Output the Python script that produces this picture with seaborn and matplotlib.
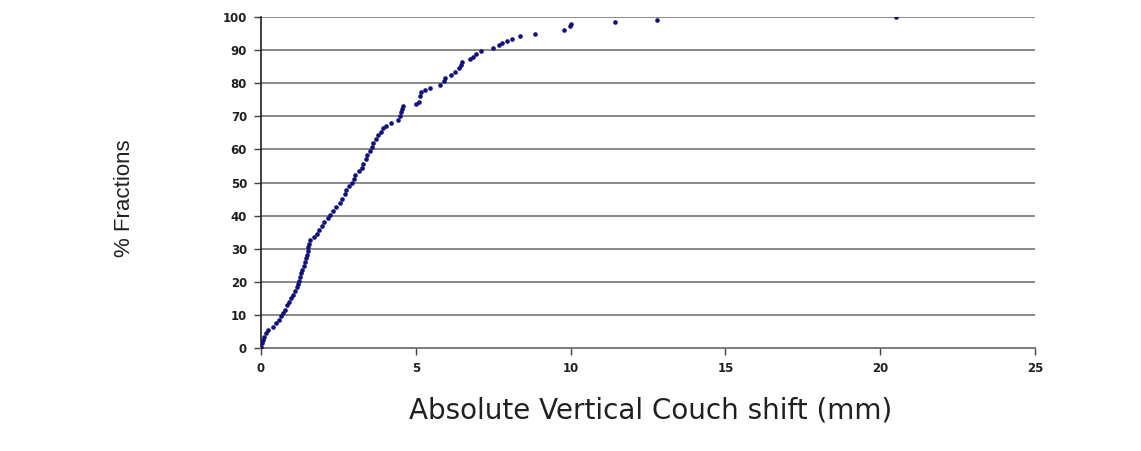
import numpy as np
import pandas as pd
import matplotlib
matplotlib.use("Agg")
import matplotlib.pyplot as plt
import seaborn as sns

# values (shift in mm, cumulative % of fractions)
shift_mm = [
    0.0, 0.03, 0.07, 0.1, 0.17, 0.24, 0.4, 0.5, 0.58, 0.63,
    0.7, 0.76, 0.83, 0.9, 0.97, 1.03, 1.1, 1.15, 1.18, 1.22,
    1.26, 1.3, 1.33, 1.38, 1.42, 1.45, 1.48, 1.51, 1.53, 1.56,
    1.58, 1.7, 1.8, 1.87, 1.96, 2.05, 2.15, 2.23, 2.32, 2.42,
    2.55, 2.62, 2.7, 2.76, 2.85, 2.93, 3.0, 3.05, 3.15, 3.25,
    3.3, 3.38, 3.43, 3.52, 3.57, 3.63, 3.7, 3.78, 3.86, 3.95,
    4.05, 4.2, 4.43, 4.48, 4.52, 4.56, 4.6, 5.0, 5.1, 5.15,
    5.18, 5.3, 5.45, 5.77, 5.9, 5.95, 6.15, 6.28, 6.38, 6.45,
    6.5, 6.75, 6.85, 6.96, 7.1, 7.5, 7.7, 7.8, 7.95, 8.1,
    8.35, 8.84, 9.8, 9.97, 10.0, 11.42, 12.8, 20.5,
]
pct_fractions = [
    0.4, 1.5, 2.5, 3.4, 4.4, 5.4, 6.4, 7.5, 8.5, 9.6,
    10.6, 11.6, 13.0, 14.0, 15.1, 16.0, 17.2, 18.3, 19.2, 20.3,
    21.4, 22.6, 23.7, 24.8, 26.0, 27.1, 28.2, 29.3, 30.4, 31.5,
    32.6, 33.4, 34.4, 35.5, 37.0, 38.0, 39.2, 40.2, 41.5, 42.5,
    43.8, 45.0, 46.6, 47.8, 48.8, 50.0, 51.2, 52.4, 53.5, 54.5,
    55.7, 57.0, 58.2, 59.6, 60.7, 61.8, 63.0, 64.3, 65.4, 66.4,
    67.2, 68.0, 68.9, 70.2, 71.2, 72.1, 73.0, 73.8, 74.4, 76.0,
    77.2, 77.9, 78.5, 79.4, 80.6, 81.5, 82.5, 83.5, 84.5, 85.6,
    86.5, 87.2, 88.0, 88.9, 89.6, 90.5, 91.6, 92.1, 92.8, 93.5,
    94.3, 95.0, 96.1, 97.3, 97.8, 98.4, 99.1, 99.9,
]
x_ticks = [0, 5, 10, 15, 20, 25]
y_ticks = list(range(0, 101, 10))

df = pd.DataFrame({"shift": shift_mm, "pct": pct_fractions})

sns.set_style("white")
fig = plt.figure(figsize=(11.41, 4.51), dpi=100)
ax = fig.add_axes([261 / 1141, 1 - 348 / 451, 774 / 1141, 331 / 451])

for y in y_ticks[1:]:
    ax.axhline(y, color="#7f7f7f", lw=1.3, zorder=1)

sns.scatterplot(data=df, x="shift", y="pct", ax=ax, color="#10107a",
                s=11, linewidth=0, marker="o", zorder=3, legend=False)

ax.set_xlim(0, 25)
ax.set_ylim(0, 100)
ax.set_xticks(x_ticks)
ax.set_yticks(y_ticks)
ax.set_xlabel("")
ax.set_ylabel("")
for s in ["top", "right"]:
    ax.spines[s].set_visible(False)
ax.spines["left"].set_color("#202020")
ax.spines["bottom"].set_color("#6f6f6f")
ax.spines["left"].set_linewidth(1.2)
ax.spines["bottom"].set_linewidth(1.3)
ax.tick_params(axis="both", direction="out", length=5, width=1, color="#404040",
               labelsize=8.5, pad=5, left=True, bottom=True)
for lab in ax.get_xticklabels() + ax.get_yticklabels():
    lab.set_fontweight("bold")
    lab.set_color("#202020")

fig.text(651 / 1141, 1 - 411 / 451, "Absolute Vertical Couch shift (mm)",
         ha="center", va="center", fontsize=20,
         family=["DejaVu Sans"], color="#202020")
fig.text(125 / 1141, 1 - 198 / 451, "% Fractions", rotation=90,
         ha="center", va="center", fontsize=16,
         family=["Liberation Sans Narrow", "Liberation Sans", "DejaVu Sans"],
         color="#202020")

fig.savefig("out.png", dpi=100)
